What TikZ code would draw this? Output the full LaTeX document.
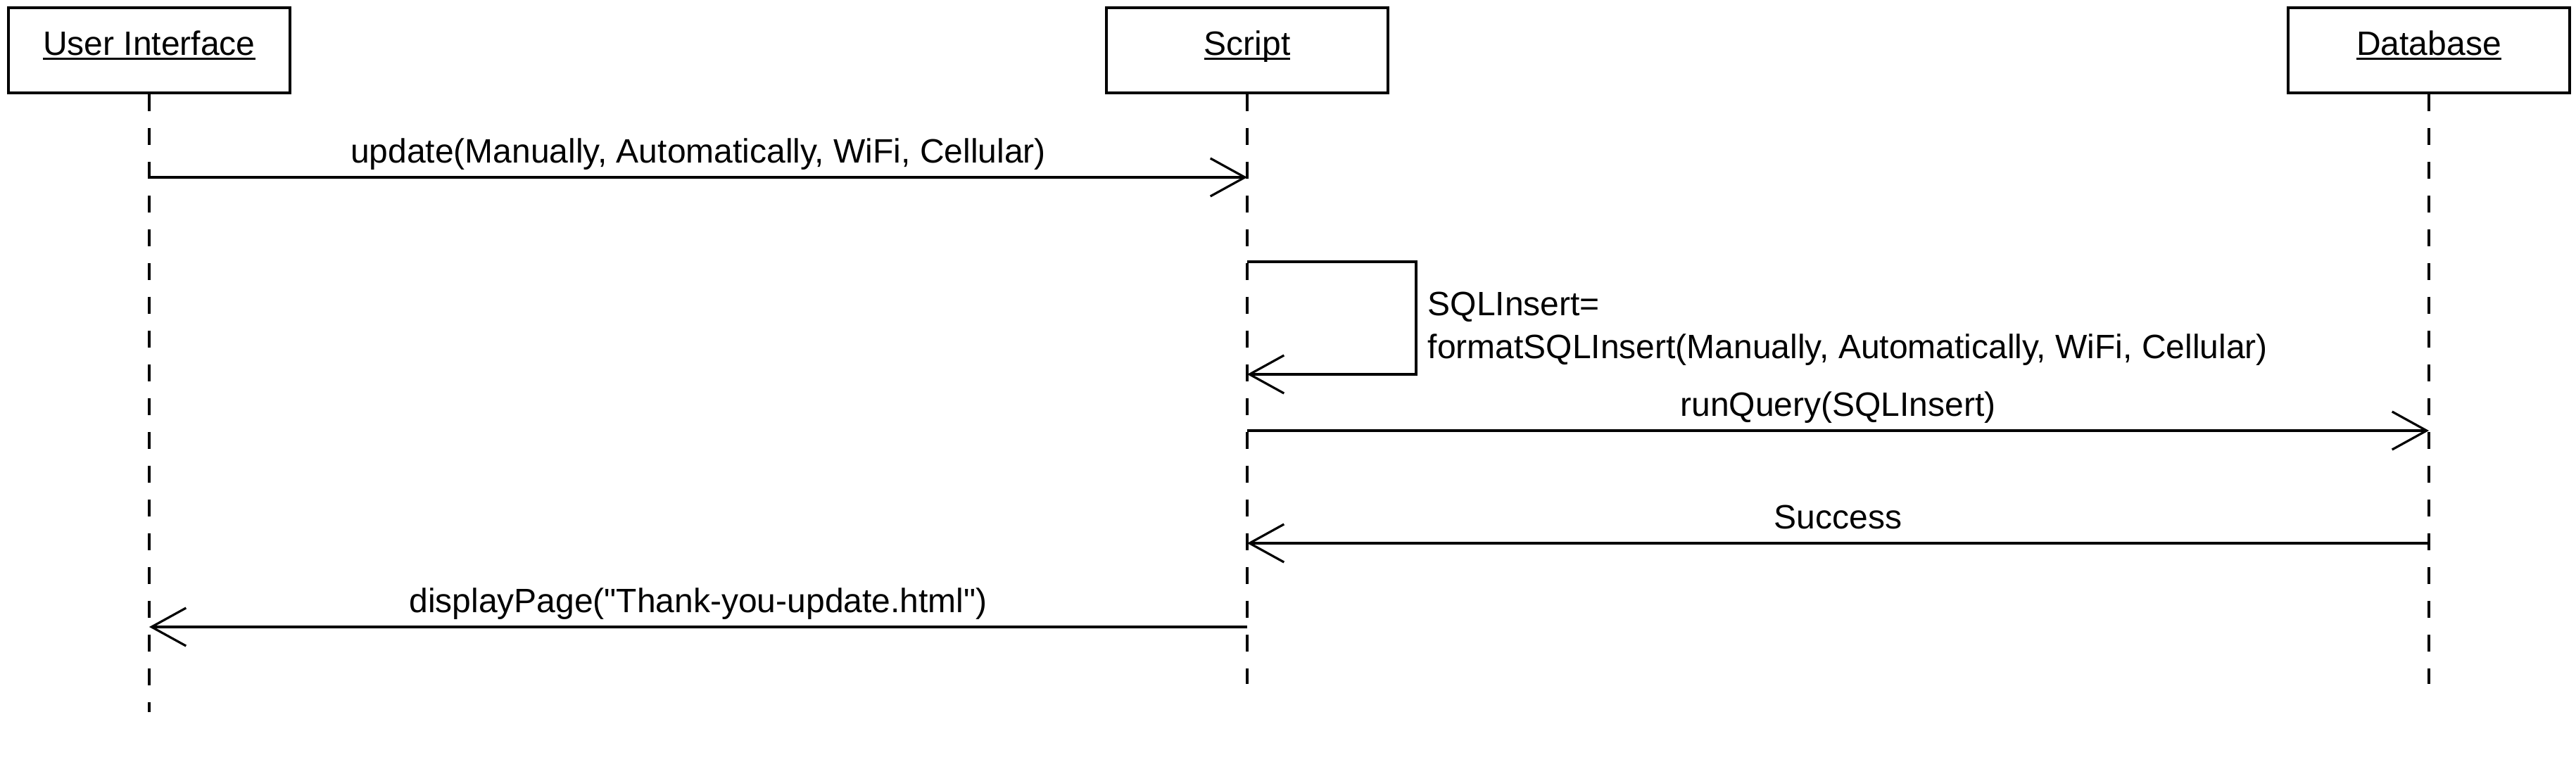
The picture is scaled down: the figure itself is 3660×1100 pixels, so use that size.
\documentclass[tikz,border=0pt]{standalone}
\usepackage{fontspec}
\setmainfont{Liberation Sans}
\usetikzlibrary{arrows.meta}
\newcommand{\myul}[1]{\setbox0\hbox{#1}\rlap{\rule[-1.625pt]{\wd0}{0.8pt}}\box0}
\begin{document}
\begin{tikzpicture}[x=0.25pt,y=-0.25pt,
  font=\fontsize{12pt}{15.25pt}\selectfont,
  objbox/.style={draw, line width=0.8pt, inner sep=0pt, minimum width=100pt, minimum height=30.25pt,
     text height=12pt, text depth=8.25pt},
  lifeline/.style={line width=0.8pt, dash pattern=on 6pt off 6pt},
  msg/.style={line width=0.8pt, -{Straight Barb[length=12.25pt,width=13.5pt,line width=0.8pt]}},
  msglabel/.style={anchor=base, yshift=5pt, inner sep=0pt}]
\fill[white] (0,0) rectangle (3660,1100);
\useasboundingbox (0,0) rectangle (3660,1100);
% objects
\node[objbox] (ui) at (212,71.5) {\myul{User Interface}};
\node[objbox] (sc) at (1772,71.5) {\myul{Script}};
\node[objbox] (db) at (3451,71.5) {\myul{Database}};
% lifeline ends
\coordinate (uiend) at (212,1012);
\coordinate (scend) at (1772,972);
\coordinate (dbend) at (3451,972);
\draw[lifeline] (ui.south) -- (uiend);
\draw[lifeline] (sc.south) -- (scend);
\draw[lifeline] (db.south) -- (dbend);
% message points
\coordinate (m1a) at (212,252);  \coordinate (m1b) at (1772,252);
\coordinate (s1) at (1772,372); \coordinate (s2) at (2012,372);
\coordinate (s3) at (2012,532); \coordinate (s4) at (1772,532);
\coordinate (m3a) at (1772,612); \coordinate (m3b) at (3451,612);
\coordinate (m4a) at (3451,772); \coordinate (m4b) at (1772,772);
\coordinate (m5a) at (1772,891); \coordinate (m5b) at (212,891);
% messages
\draw[msg] (m1a) -- (m1b) node[midway, msglabel] {update(Manually, Automatically, WiFi, Cellular)};
\draw[msg] (s1) -- (s2) -- (s3) -- (s4);
\node[anchor=base west, align=left, inner sep=0pt] (sllabel) at (2028,510) {SQLInsert=\\formatSQLInsert(Manually, Automatically, WiFi, Cellular)};
\draw[msg] (m3a) -- (m3b) node[midway, msglabel] {runQuery(SQLInsert)};
\draw[msg] (m4a) -- (m4b) node[midway, msglabel] {Success};
\draw[msg] (m5a) -- (m5b) node[midway, msglabel] {displayPage(\textquotedbl Thank-you-update.html\textquotedbl)};
\end{tikzpicture}
\end{document}
